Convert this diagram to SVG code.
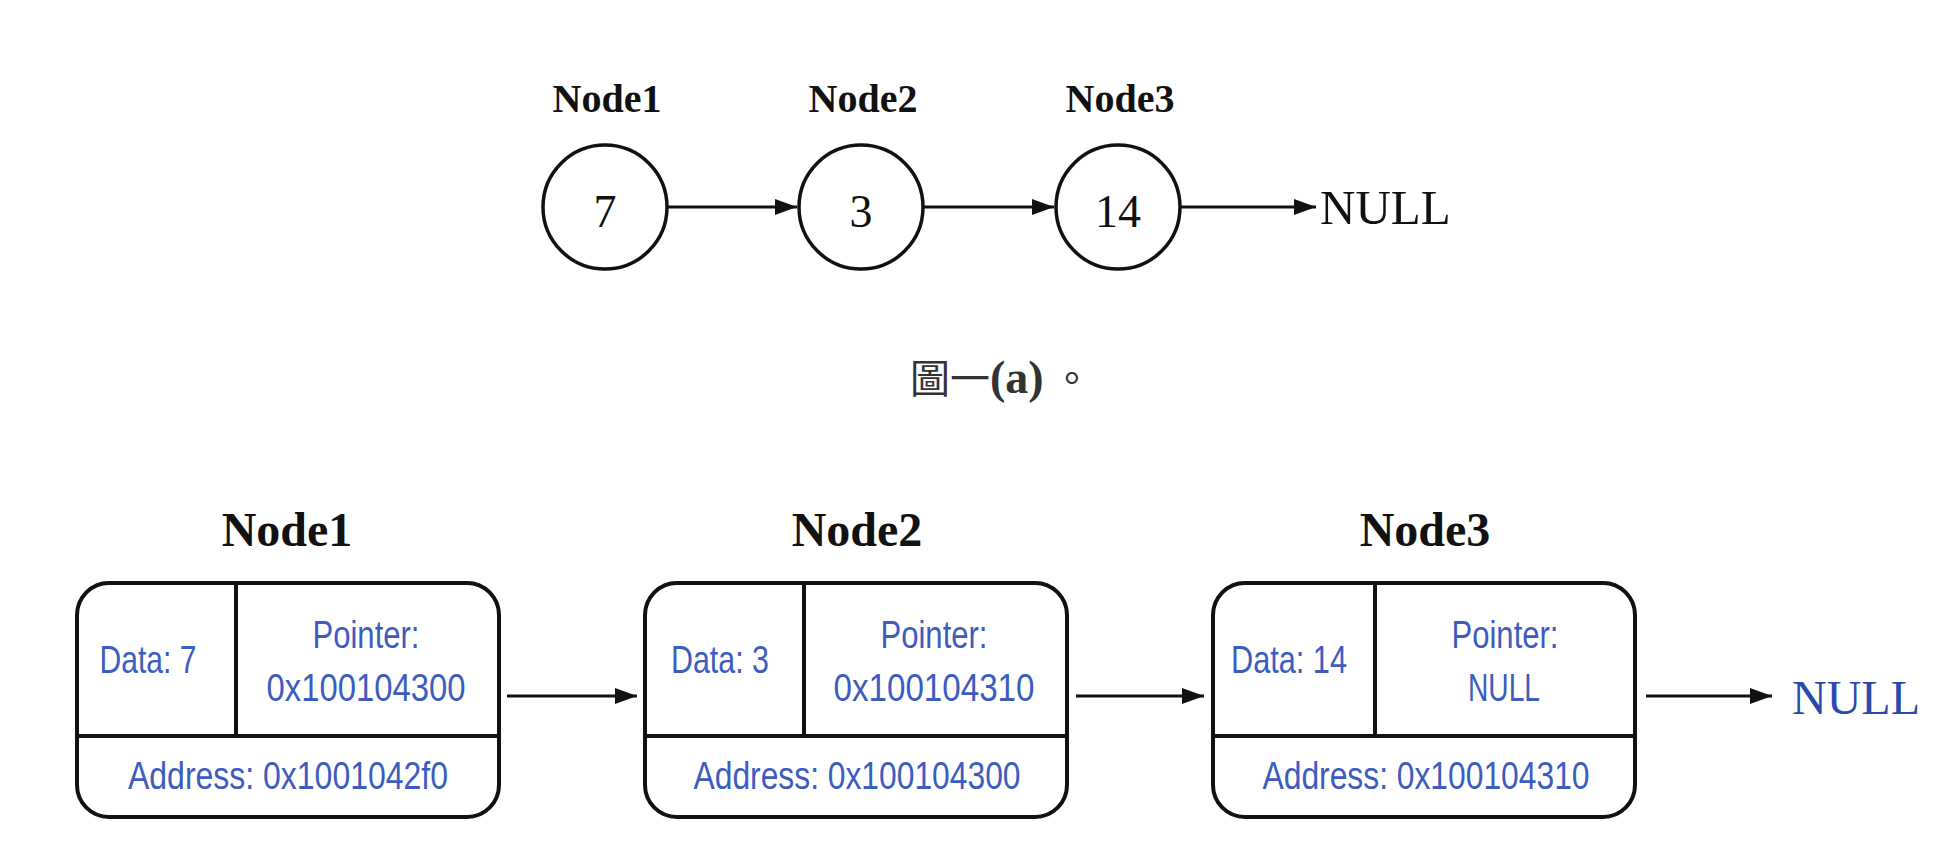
<svg xmlns="http://www.w3.org/2000/svg" width="1955" height="853" viewBox="0 0 1955 853">
<defs>
<style>
.lbl{font-family:"Liberation Serif",serif;font-weight:bold;fill:#111;text-anchor:middle}
.num{font-family:"Liberation Serif",serif;font-size:46px;fill:#111;text-anchor:middle}
.circ{fill:#fff;stroke:#111;stroke-width:3.5}
.box{fill:#fff;stroke:#111;stroke-width:4}
.div{stroke:#111;stroke-width:4}
.bt{font-family:"Liberation Sans",sans-serif;font-size:39px;fill:#3c5cbf;text-anchor:middle}
.con{stroke:#111;stroke-width:3;fill:none}
</style>
<marker id="ah" markerUnits="userSpaceOnUse" markerWidth="22" markerHeight="16" refX="22" refY="8" orient="auto">
<path d="M0,0 L22,8 L0,16 z" fill="#111"/>
</marker>
</defs>
<rect width="1955" height="853" fill="#fff"/>

<!-- Top part -->
<g id="t-node1">
<text class="lbl" x="607" y="112" font-size="40">Node1</text>
<circle class="circ" cx="605" cy="207" r="62"/>
<text class="num" x="605" y="227">7</text>
</g>
<g id="t-node2">
<text class="lbl" x="863" y="112" font-size="40">Node2</text>
<circle class="circ" cx="861" cy="207" r="62"/>
<text class="num" x="861" y="227">3</text>
</g>
<g id="t-node3">
<text class="lbl" x="1120" y="112" font-size="40">Node3</text>
<circle class="circ" cx="1118" cy="207" r="62"/>
<text class="num" x="1118" y="227">14</text>
</g>
<g id="t-null">
<text x="1320" y="224" font-family="Liberation Serif, serif" font-size="49" fill="#111">NULL</text>
</g>
<g id="t-connectors">
<line class="con" x1="668" y1="207" x2="797" y2="207" marker-end="url(#ah)"/>
<line class="con" x1="924" y1="207" x2="1054" y2="207" marker-end="url(#ah)"/>
<line class="con" x1="1181" y1="207" x2="1316" y2="207" marker-end="url(#ah)"/>
</g>

<g id="caption">
<text x="910" y="393" font-size="40" fill="#333" font-family="Liberation Serif, 'Noto Sans CJK TC', serif">圖一<tspan font-weight="bold" font-size="46">(a)</tspan><tspan dx="8">。</tspan></text>
</g>

<!-- Bottom part -->
<g id="b-node1">
<text class="lbl" x="287" y="546" font-size="48">Node1</text>
<rect class="box" x="77" y="583" width="422" height="234" rx="32"/>
<line class="div" x1="77" y1="736" x2="499" y2="736"/>
<line class="div" x1="236" y1="583" x2="236" y2="736"/>
<text class="bt" x="148" y="673" textLength="97" lengthAdjust="spacingAndGlyphs">Data: 7</text>
<text class="bt" x="366" y="648" textLength="107" lengthAdjust="spacingAndGlyphs">Pointer:</text>
<text class="bt" x="366" y="701" textLength="199" lengthAdjust="spacingAndGlyphs">0x100104300</text>
<text class="bt" x="288" y="789" textLength="320" lengthAdjust="spacingAndGlyphs">Address: 0x1001042f0</text>
</g>
<g id="b-node2">
<text class="lbl" x="857" y="546" font-size="48">Node2</text>
<rect class="box" x="645" y="583" width="422" height="234" rx="32"/>
<line class="div" x1="645" y1="736" x2="1067" y2="736"/>
<line class="div" x1="804" y1="583" x2="804" y2="736"/>
<text class="bt" x="720" y="673" textLength="98" lengthAdjust="spacingAndGlyphs">Data: 3</text>
<text class="bt" x="934" y="648" textLength="107" lengthAdjust="spacingAndGlyphs">Pointer:</text>
<text class="bt" x="934" y="701" textLength="201" lengthAdjust="spacingAndGlyphs">0x100104310</text>
<text class="bt" x="857" y="789" textLength="327" lengthAdjust="spacingAndGlyphs">Address: 0x100104300</text>
</g>
<g id="b-node3">
<text class="lbl" x="1425" y="546" font-size="48">Node3</text>
<rect class="box" x="1213" y="583" width="422" height="234" rx="32"/>
<line class="div" x1="1213" y1="736" x2="1635" y2="736"/>
<line class="div" x1="1375" y1="583" x2="1375" y2="736"/>
<text class="bt" x="1289" y="673" textLength="116" lengthAdjust="spacingAndGlyphs">Data: 14</text>
<text class="bt" x="1505" y="648" textLength="107" lengthAdjust="spacingAndGlyphs">Pointer:</text>
<text class="bt" x="1504" y="701" textLength="72" lengthAdjust="spacingAndGlyphs">NULL</text>
<text class="bt" x="1426" y="789" textLength="327" lengthAdjust="spacingAndGlyphs">Address: 0x100104310</text>
</g>
<g id="b-null">
<text x="1792" y="714" font-family="Liberation Serif, serif" font-size="48" fill="#2b4aae">NULL</text>
</g>
<g id="b-connectors">
<line class="con" x1="507" y1="696" x2="637" y2="696" stroke-width="3.5" marker-end="url(#ah)"/>
<line class="con" x1="1076" y1="696" x2="1204" y2="696" stroke-width="3.5" marker-end="url(#ah)"/>
<line class="con" x1="1646" y1="696" x2="1772" y2="696" stroke-width="3.5" marker-end="url(#ah)"/>
</g>
</svg>
